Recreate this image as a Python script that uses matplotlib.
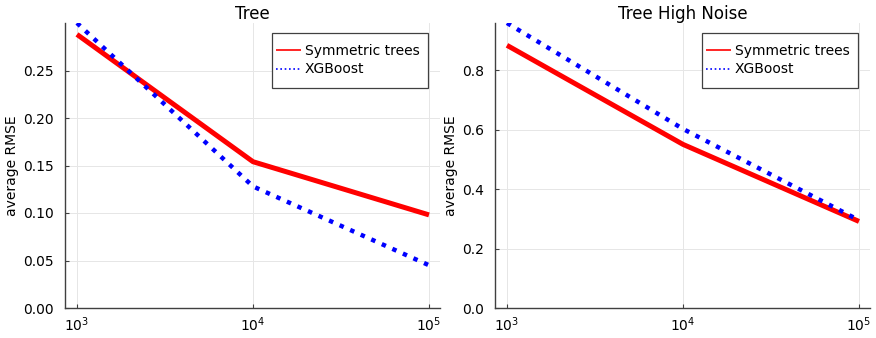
import matplotlib
matplotlib.use("Agg")
import matplotlib.pyplot as plt
from matplotlib.patches import Rectangle
from matplotlib.ticker import FixedLocator, FormatStrFormatter

plt.rcParams['font.family'] = ['DejaVu Sans']

# data
n_samples = [1e3, 1e4, 1e5]
tree_sym = [0.288, 0.154, 0.098]
tree_xgb = [0.300, 0.128, 0.045]
noise_sym = [0.883, 0.550, 0.291]
noise_xgb = [0.958, 0.602, 0.295]

titles = ["Tree", "Tree High Noise"]
ylabel = "average RMSE"
legend_labels = ["Symmetric trees", "XGBoost"]
yticks_tree = [0.00, 0.05, 0.10, 0.15, 0.20, 0.25]
yticks_noise = [0.0, 0.2, 0.4, 0.6, 0.8]

W, H = 876, 338
fig = plt.figure(figsize=(W/100, H/100), dpi=100)
ax1 = fig.add_axes([65/W, 1-308/H, 375/W, 285/H])
ax2 = fig.add_axes([495/W, 1-308/H, 375/W, 285/H])

panels = [
    (ax1, tree_sym, tree_xgb, yticks_tree, '%.2f', max(tree_xgb)),
    (ax2, noise_sym, noise_xgb, yticks_noise, '%.1f', max(noise_xgb)),
]

legends = []
for i, (ax, sym, xgb, yt, fmt, top) in enumerate(panels):
    ax.plot(n_samples, sym, color='red', lw=3.6, label=legend_labels[0],
            solid_capstyle='butt')
    ax.plot(n_samples, xgb, color='blue', lw=3.2, linestyle=(0, (1, 1.6)),
            label=legend_labels[1], dash_capstyle='butt')
    ax.set_xscale('log')
    ax.set_xlim(10**2.932, 10**5.0625)
    ax.set_ylim(0, top)
    ax.xaxis.set_major_locator(FixedLocator([1e3, 1e4, 1e5]))
    ax.xaxis.set_minor_locator(FixedLocator([]))
    ax.yaxis.set_major_locator(FixedLocator(yt))
    ax.yaxis.set_major_formatter(FormatStrFormatter(fmt))
    ax.grid(True, color='#e6e6e6', lw=0.7)
    ax.set_axisbelow(True)
    for s in ['top', 'right']:
        ax.spines[s].set_visible(False)
    for s in ['left', 'bottom']:
        ax.spines[s].set_color('#404040')
        ax.spines[s].set_linewidth(1.0)
    ax.tick_params(direction='in', length=3, width=0.8, color='#404040',
                   labelsize=10, labelcolor='black')
    ax.tick_params(axis='x', pad=5)
    ax.tick_params(axis='y', pad=8)
    ax.set_title(titles[i], fontsize=12, pad=3)
    ax.set_ylabel(ylabel, fontsize=10)
    leg = ax.legend(loc='upper right', bbox_to_anchor=(0.957, 0.940),
                    borderaxespad=0, frameon=False, fontsize=10,
                    handlelength=1.8, handletextpad=0.3, borderpad=0.3,
                    labelspacing=0.3)
    leg.set_zorder(6)
    for h in leg.get_lines():
        h.set_linewidth(1.2)
    legends.append((ax, leg))

ax1.yaxis.set_label_coords(-46/375, 0.5)
ax2.yaxis.set_label_coords(-37/375, 0.5)

# legend frame: tight horizontally, roomier vertically
fig.canvas.draw()
for ax, leg in legends:
    bb = leg.get_window_extent()
    inv = ax.transAxes.inverted()
    (x0, y0) = inv.transform((bb.x0, bb.y0 - 7))
    (x1, y1) = inv.transform((bb.x1 + 4, bb.y1 + 7))
    ax.add_patch(Rectangle((x0, y0), x1 - x0, y1 - y0,
                           transform=ax.transAxes, facecolor='white',
                           edgecolor='#404040', lw=0.9, zorder=5,
                           clip_on=False))

fig.savefig('out.png', dpi=100)
